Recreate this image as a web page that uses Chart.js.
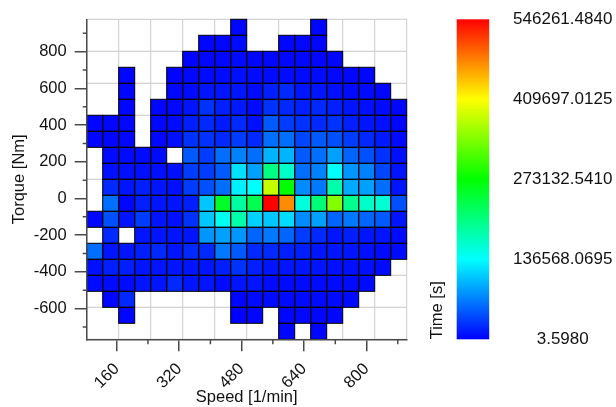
<!DOCTYPE html>
<html>
<head>
<meta charset="utf-8">
<script src="https://cdn.jsdelivr.net/npm/chart.js@4.4.1/dist/chart.umd.min.js"></script>
<style>
html,body{margin:0;padding:0;background:#ffffff;}
#wrap{width:616px;height:407px;}
</style>
</head>
<body>
<div id="wrap"><canvas id="c" width="616" height="407"></canvas></div>
<script>
// ---- data ----
// centres of the speed bins [1/min], left to right
const speedBins = [103.5, 144.5, 185.5, 226.5, 267.5, 308.5, 349.5, 390.5, 431.5, 472.5,
                   513.5, 554.5, 595.5, 636.5, 677.5, 718.5, 759.5, 800.5, 841.5, 882.5];
// centres of the torque bins [Nm], top to bottom
const torqueBins = [933.1, 845.9, 758.7, 671.5, 584.3, 497.1, 409.9, 322.7, 235.5, 148.3,
                    61.1, -26.1, -113.3, -200.5, -287.7, -374.9, -462.1, -549.3, -636.5, -723.7];
// time per cell [s]; one row per torque bin, one column per speed bin; null = empty
const N = null;
const timeRows = [
  [N,N,N,N,N,N,N,N,N,2700, N,N,N,N,2600,N,N,N,N,N],
  [N,N,N,N,N,N,N,2500,2900,5400, N,N,2800,3100,2600,N,N,N,N,N],
  [N,N,N,N,N,N,2400,3000,3300,5600, 2900,3400,3200,3500,3000,2700,N,N,N,N],
  [N,N,2600,N,N,2300,3200,5100,5500,8000, 5800,5400,6000,5600,5300,3000,2900,2800,N,N],
  [N,N,2800,N,N,3000,5400,10700,10500,11000, 5600,16100,21400,10700,11200,8000,5400,5200,2900,N],
  [N,N,2500,N,2700,3100,10700,26800,16100,13400, 5400,26800,21400,16100,21400,16100,10700,8000,5400,2700],
  [2600,2900,3000,N,3300,5400,16100,21400,13400,21400, 8000,48200,32100,26800,21400,26800,16100,10700,8000,2800],
  [2800,2700,3200,N,3000,8000,26800,26800,21400,32100, 21400,58900,58900,37500,48200,42800,32100,21400,13400,5400],
  [N,5400,5400,5400,5400,N,48200,32100,58900,69600, 58900,96400,96400,48200,58900,85700,53600,42800,26800,8000],
  [N,8000,8000,8000,8000,8000,32100,32100,48200,120500, 85700,203500,166000,58900,69600,136600,80300,69600,37500,10700],
  [N,21400,10700,16100,10700,8000,32100,42800,58900,128500, 136600,380200,273100,75000,64300,182100,91000,85700,58900,10700],
  [N,58900,2700,16100,10700,10700,16100,107100,251300,187400, 230000,546261.484,471300,155300,208900,342600,198100,166000,160000,42800],
  [2700,42800,10700,32100,10700,8000,26800,107100,144600,182100, 112500,107100,117800,75000,85700,53600,64300,53600,48200,10700],
  [N,21400,N,10700,10700,10700,10700,80300,85700,80300, 53600,64300,53600,32100,21400,10700,16100,10700,10700,5400],
  [58900,10700,10700,16100,21400,10700,21400,21400,64300,48200, 21400,21400,16100,16100,10700,10700,10700,8000,5400,5400],
  [8000,16100,16100,10700,10700,10700,10700,10700,16100,26800, 16100,10700,10700,10700,10700,8000,8000,8000,5400,N],
  [5400,5400,5400,10700,10700,21400,10700,10700,5400,10700, 10700,5400,5400,5400,5400,5400,5400,5400,N,N],
  [N,2700,21400,N,N,N,N,N,N,2700, 5400,5400,5400,5400,5400,5400,5400,N,N,N],
  [N,N,2900,N,N,N,N,N,N,3.598, 2700,N,2800,3000,2600,2500,N,N,N,N],
  [N,N,N,N,N,N,N,N,N,N, N,N,2600,N,2700,N,N,N,N,N]
];
// tick labels
const speedTicks = [160, 320, 480, 640, 800];
const speedMinorTicks = [240, 400, 560, 720, 880];
const torqueTicks = [-600, -400, -200, 0, 200, 400, 600, 800];
const torqueMinorTicks = [-700, -500, -300, -100, 100, 300, 500, 700, 900];
const colorbarTicks = [3.598, 136568.0695, 273132.5410, 409697.0125, 546261.4840];
const colorStops = [[0, 0, 0, 255], [0.25, 0, 255, 255], [0.5, 0, 255, 0], [0.75, 255, 255, 0], [1, 255, 0, 0]];

// ---- helpers ----
const vMin = colorbarTicks[0], vMax = colorbarTicks[colorbarTicks.length - 1];
function colorFor(v) {
  let t = (v - vMin) / (vMax - vMin);
  t = Math.max(0, Math.min(1, t));
  for (let i = 1; i < colorStops.length; i++) {
    const a = colorStops[i - 1], b = colorStops[i];
    if (t <= b[0]) {
      const f = (t - a[0]) / (b[0] - a[0]);
      const r = Math.round(a[1] + (b[1] - a[1]) * f);
      const g = Math.round(a[2] + (b[2] - a[2]) * f);
      const bl = Math.round(a[3] + (b[3] - a[3]) * f);
      return 'rgb(' + r + ',' + g + ',' + bl + ')';
    }
  }
  return 'rgb(255,0,0)';
}

const dX = speedBins[1] - speedBins[0];
const dY = torqueBins[0] - torqueBins[1];
const xLo = speedBins[0] - dX / 2, xHi = speedBins[speedBins.length - 1] + dX / 2;
const yHi = torqueBins[0] + dY / 2, yLo = torqueBins[torqueBins.length - 1] - dY / 2;

const points = [];
torqueBins.forEach((ty, r) => {
  speedBins.forEach((sx, c) => {
    const v = timeRows[r][c];
    if (v !== null) points.push({ x: sx, y: ty, v: v });
  });
});

const FONT = "'Liberation Sans', Arial, Helvetica, sans-serif";
const TXT = '#111111';
const AXIS = '#4a4a4a';

const heatmapPlugin = {
  id: 'heatmap',
  beforeDatasetsDraw(chart) {
    const ctx = chart.ctx, xs = chart.scales.x, ys = chart.scales.y, ca = chart.chartArea;
    ctx.save();
    // light grid every second bin edge + frame
    ctx.strokeStyle = '#c9c9c9';
    ctx.lineWidth = 1;
    ctx.beginPath();
    for (let c = 0; c <= speedBins.length; c += 2) {
      const px = xs.getPixelForValue(xLo + c * dX);
      ctx.moveTo(px, ca.top); ctx.lineTo(px, ca.bottom);
    }
    for (let r = 0; r <= torqueBins.length; r += 2) {
      const py = ys.getPixelForValue(yHi - r * dY);
      ctx.moveTo(ca.left, py); ctx.lineTo(ca.right, py);
    }
    ctx.stroke();
    // cells
    const data = chart.data.datasets[0].data;
    data.forEach(p => {
      const x0 = xs.getPixelForValue(p.x - dX / 2), x1 = xs.getPixelForValue(p.x + dX / 2);
      const y0 = ys.getPixelForValue(p.y + dY / 2), y1 = ys.getPixelForValue(p.y - dY / 2);
      ctx.fillStyle = colorFor(p.v);
      ctx.fillRect(x0, y0, x1 - x0, y1 - y0);
    });
    ctx.strokeStyle = '#000000';
    ctx.lineWidth = 1;
    data.forEach(p => {
      const x0 = xs.getPixelForValue(p.x - dX / 2), x1 = xs.getPixelForValue(p.x + dX / 2);
      const y0 = ys.getPixelForValue(p.y + dY / 2), y1 = ys.getPixelForValue(p.y - dY / 2);
      ctx.strokeRect(x0, y0, x1 - x0, y1 - y0);
    });
    ctx.restore();
  },
  afterDraw(chart) {
    const ctx = chart.ctx, xs = chart.scales.x, ys = chart.scales.y, cs = chart.scales.c, ca = chart.chartArea;
    ctx.save();
    // minor ticks
    ctx.strokeStyle = AXIS;
    ctx.lineWidth = 1.5;
    ctx.beginPath();
    speedMinorTicks.forEach(v => {
      const px = xs.getPixelForValue(v);
      ctx.moveTo(px, ca.bottom); ctx.lineTo(px, ca.bottom + 5);
    });
    torqueMinorTicks.forEach(v => {
      const py = ys.getPixelForValue(v);
      ctx.moveTo(ca.left, py); ctx.lineTo(ca.left - 4, py);
    });
    ctx.stroke();
    // colour bar
    const top = cs.getPixelForValue(vMax), bot = cs.getPixelForValue(vMin);
    const bx = cs.left + 50, bw = 32.5;
    const grad = ctx.createLinearGradient(0, bot, 0, top);
    colorStops.forEach(s => grad.addColorStop(s[0], 'rgb(' + s[1] + ',' + s[2] + ',' + s[3] + ')'));
    ctx.fillStyle = grad;
    ctx.fillRect(bx, top, bw, bot - top);
    // colour bar labels
    ctx.fillStyle = TXT;
    ctx.font = '17px ' + FONT;
    ctx.textAlign = 'center';
    ctx.textBaseline = 'middle';
    colorbarTicks.forEach(v => {
      ctx.fillText(v.toFixed(4), cs.left + 156, cs.getPixelForValue(v));
    });
    // colour bar title
    ctx.font = '16.5px ' + FONT;
    ctx.translate(cs.left + 30.5, bot);
    ctx.rotate(-Math.PI / 2);
    ctx.textAlign = 'left';
    ctx.textBaseline = 'middle';
    ctx.fillText('Time [s]', 0, 0);
    ctx.restore();
  }
};

Chart.defaults.font.family = FONT;

new Chart(document.getElementById('c'), {
  type: 'scatter',
  data: {
    datasets: [{
      label: 'Time [s]',
      data: points,
      pointRadius: 0,
      pointHoverRadius: 0,
      showLine: false
    }]
  },
  options: {
    responsive: false,
    animation: false,
    devicePixelRatio: 1,
    layout: { padding: { top: 19.3, left: 0, right: 0, bottom: 0 } },
    plugins: { legend: { display: false }, tooltip: { enabled: false } },
    scales: {
      x: {
        type: 'linear',
        position: 'bottom',
        min: xLo,
        max: xHi,
        afterBuildTicks: s => { s.ticks = speedTicks.map(v => ({ value: v })); },
        afterFit: s => { s.height = 67.7; },
        ticks: {
          minRotation: 45, maxRotation: 45, autoSkip: false,
          padding: 8, color: TXT, font: { size: 16.5 },
          callback: v => String(v)
        },
        grid: { drawOnChartArea: false, drawTicks: true, tickLength: 12, color: AXIS, lineWidth: 1.5 },
        border: { display: true, color: AXIS, width: 1.5, z: 1 },
        title: { display: true, text: 'Speed [1/min]', color: TXT, font: { size: 16.5 }, padding: { top: 0, bottom: 0 } }
      },
      y: {
        type: 'linear',
        position: 'left',
        min: yLo,
        max: yHi,
        afterBuildTicks: s => { s.ticks = torqueTicks.map(v => ({ value: v })); },
        afterFit: s => { s.width = 86.7; },
        ticks: { padding: 8, color: TXT, font: { size: 16.5 }, callback: v => String(v) },
        grid: { drawOnChartArea: false, drawTicks: true, tickLength: 12, color: AXIS, lineWidth: 1.5 },
        border: { display: true, color: AXIS, width: 1.5, z: 1 },
        title: { display: true, text: 'Torque [Nm]', color: TXT, font: { size: 16.5 }, padding: { top: 10, bottom: 0 } }
      },
      c: {
        type: 'linear',
        position: 'right',
        min: vMin,
        max: vMax,
        afterBuildTicks: s => { s.ticks = colorbarTicks.map(v => ({ value: v })); },
        afterFit: s => { s.width = 209.3; },
        ticks: { display: false },
        grid: { display: false, drawTicks: false, drawOnChartArea: false },
        border: { display: false }
      }
    }
  },
  plugins: [heatmapPlugin]
});
</script>
</body>
</html>
